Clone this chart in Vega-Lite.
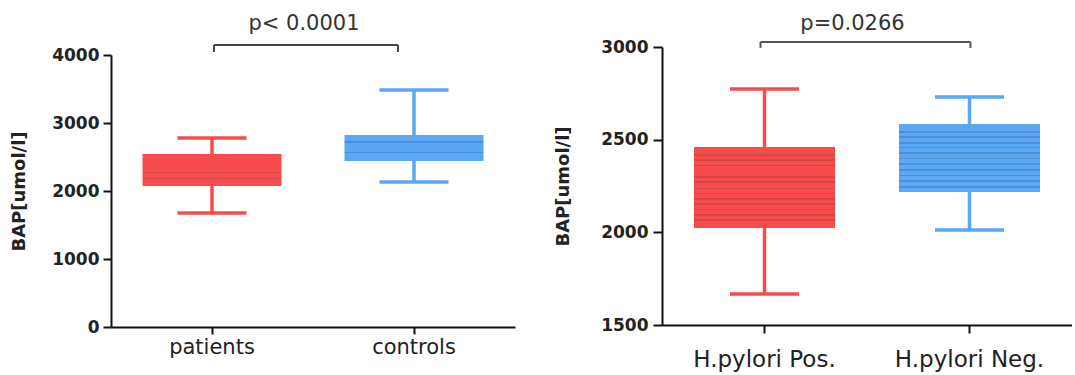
{
  "$schema": "https://vega.github.io/schema/vega-lite/v6.json",
  "padding": {"left": 10, "top": 12, "right": 0, "bottom": 2},
  "config": {
    "view": {"stroke": null},
    "font": "DejaVu Sans",
    "concat": {"spacing": 39},
    "axis": {
      "domainColor": "#111",
      "domainWidth": 2,
      "tickColor": "#111",
      "tickWidth": 2,
      "grid": false,
      "labelColor": "#222",
      "titleColor": "#222"
    }
  },
  "datasets": {
    "left": [
      {"group": "patients", "min": 1676, "q1": 2074, "q3": 2544, "max": 2779},
      {"group": "controls", "min": 2132, "q1": 2441, "q3": 2824, "max": 3485}
    ],
    "leftSig": [
      {"g1": "patients", "g2": "controls", "y": 4147, "yEnd": 4044, "yText": 4460, "label": "p< 0.0001"}
    ],
    "right": [
      {"group": "H.pylori Pos.", "min": 1667, "q1": 2023, "q3": 2460, "max": 2773},
      {"group": "H.pylori Neg.", "min": 2012, "q1": 2218, "q3": 2585, "max": 2730}
    ],
    "rightSig": [
      {"g1": "H.pylori Pos.", "g2": "H.pylori Neg.", "y": 3027, "yEnd": 2995, "yText": 3125, "label": "p=0.0266"}
    ]
  },
  "hconcat": [
    {
      "width": 404,
      "height": 280,
      "layer": [
        {
          "data": {"name": "left"},
          "mark": {"type": "rule", "strokeWidth": 3.5},
          "encoding": {
            "x": {"field": "group", "type": "nominal",
                  "scale": {"domain": ["patients", "controls"], "paddingInner": 0, "paddingOuter": 0},
                  "axis": {"title": null, "labelAngle": 0, "labelFontSize": 21, "labelPadding": 2, "tickSize": 7}},
            "y": {"field": "min", "type": "quantitative",
                  "scale": {"domain": [0, 4000], "range": [280, 8], "nice": false, "zero": false},
                  "axis": {"title": "BAP[umol/l]", "values": [0, 1000, 2000, 3000, 4000], "format": "d", "labelFontSize": 17, "labelFontWeight": "bold",
                           "titleFontSize": 18, "titleFontWeight": "bold", "titlePadding": 23, "tickSize": 8, "labelPadding": 4}},
            "y2": {"field": "max"},
            "color": {"field": "group", "type": "nominal", "scale": {"domain": ["patients", "controls"], "range": ["#f84b4b", "#5aa7f5"]}, "legend": null}
          }
        },
        {
          "data": {"name": "left"},
          "mark": {"type": "tick", "size": 69, "thickness": 3.5, "opacity": 1},
          "encoding": {
            "x": {"field": "group", "type": "nominal"},
            "y": {"field": "min", "type": "quantitative"},
            "color": {"field": "group", "type": "nominal", "legend": null}
          }
        },
        {
          "data": {"name": "left"},
          "mark": {"type": "tick", "size": 69, "thickness": 3.5, "opacity": 1},
          "encoding": {
            "x": {"field": "group", "type": "nominal"},
            "y": {"field": "max", "type": "quantitative"},
            "color": {"field": "group", "type": "nominal", "legend": null}
          }
        },
        {
          "data": {"name": "left"},
          "transform": [{"filter": {"field": "group", "equal": "patients"}}],
          "mark": {"type": "bar", "width": 139, "opacity": 1, "fill": {"gradient": "linear", "x1": 0, "y1": 0, "x2": 0, "y2": 1, "stops": [
            {"offset": 0, "color": "#f84b4b"},
            {"offset": 0.235, "color": "#f84b4b"}, {"offset": 0.235, "color": "#d44848"}, {"offset": 0.265, "color": "#d44848"}, {"offset": 0.265, "color": "#f84b4b"},
            {"offset": 0.575, "color": "#f84b4b"}, {"offset": 0.575, "color": "#d44848"}, {"offset": 0.605, "color": "#d44848"}, {"offset": 0.605, "color": "#f84b4b"},
            {"offset": 0.765, "color": "#f84b4b"}, {"offset": 0.765, "color": "#d44848"}, {"offset": 0.795, "color": "#d44848"}, {"offset": 0.795, "color": "#f84b4b"},
            {"offset": 1, "color": "#f84b4b"}]}},
          "encoding": {
            "x": {"field": "group", "type": "nominal"},
            "y": {"field": "q1", "type": "quantitative"},
            "y2": {"field": "q3"}
          }
        },
        {
          "data": {"name": "left"},
          "transform": [{"filter": {"field": "group", "equal": "controls"}}],
          "mark": {"type": "bar", "width": 139, "opacity": 1, "fill": {"gradient": "linear", "x1": 0, "y1": 0, "x2": 0, "y2": 1, "stops": [
            {"offset": 0, "color": "#5aa7f5"},
            {"offset": 0.25, "color": "#5aa7f5"}, {"offset": 0.25, "color": "#4f90d4"}, {"offset": 0.29, "color": "#4f90d4"}, {"offset": 0.29, "color": "#5aa7f5"},
            {"offset": 0.67, "color": "#5aa7f5"}, {"offset": 0.67, "color": "#4f90d4"}, {"offset": 0.71, "color": "#4f90d4"}, {"offset": 0.71, "color": "#5aa7f5"},
            {"offset": 1, "color": "#5aa7f5"}]}},
          "encoding": {
            "x": {"field": "group", "type": "nominal"},
            "y": {"field": "q1", "type": "quantitative"},
            "y2": {"field": "q3"}
          }
        },
        {
          "data": {"name": "leftSig"},
          "mark": {"type": "rule", "strokeWidth": 2, "color": "#444", "xOffset": 2, "x2Offset": -16},
          "encoding": {
            "x": {"field": "g1", "type": "nominal"},
            "x2": {"field": "g2"},
            "y": {"field": "y", "type": "quantitative"}
          }
        },
        {
          "data": {"name": "leftSig"},
          "mark": {"type": "rule", "strokeWidth": 2, "color": "#444", "xOffset": 2},
          "encoding": {
            "x": {"field": "g1", "type": "nominal"},
            "y": {"field": "y", "type": "quantitative"},
            "y2": {"field": "yEnd"}
          }
        },
        {
          "data": {"name": "leftSig"},
          "mark": {"type": "rule", "strokeWidth": 2, "color": "#444", "xOffset": -16},
          "encoding": {
            "x": {"field": "g2", "type": "nominal"},
            "y": {"field": "y", "type": "quantitative"},
            "y2": {"field": "yEnd"}
          }
        },
        {
          "data": {"name": "leftSig"},
          "mark": {"type": "text", "fontSize": 21, "color": "#333", "baseline": "middle", "align": "center", "xOffset": 92},
          "encoding": {
            "x": {"field": "g1", "type": "nominal"},
            "y": {"field": "yText", "type": "quantitative"},
            "text": {"field": "label"}
          }
        }
      ]
    },
    {
      "width": 410,
      "height": 278,
      "layer": [
        {
          "data": {"name": "right"},
          "mark": {"type": "rule", "strokeWidth": 3.5},
          "encoding": {
            "x": {"field": "group", "type": "nominal",
                  "scale": {"domain": ["H.pylori Pos.", "H.pylori Neg."], "paddingInner": 0, "paddingOuter": 0},
                  "axis": {"title": null, "labelAngle": 0, "labelFontSize": 23, "labelPadding": 15, "tickSize": 8}},
            "y": {"field": "min", "type": "quantitative",
                  "scale": {"domain": [1500, 3000], "nice": false, "zero": false},
                  "axis": {"title": "BAP[umol/l]", "values": [1500, 2000, 2500, 3000], "format": "d", "labelFontSize": 17, "labelFontWeight": "bold",
                           "titleFontSize": 18, "titleFontWeight": "bold", "titlePadding": 28, "tickSize": 9, "labelPadding": 5}},
            "y2": {"field": "max"},
            "color": {"field": "group", "type": "nominal", "scale": {"domain": ["H.pylori Pos.", "H.pylori Neg."], "range": ["#f84b4b", "#5aa7f5"]}, "legend": null}
          }
        },
        {
          "data": {"name": "right"},
          "mark": {"type": "tick", "size": 69, "thickness": 3.5, "opacity": 1},
          "encoding": {
            "x": {"field": "group", "type": "nominal"},
            "y": {"field": "min", "type": "quantitative"},
            "color": {"field": "group", "type": "nominal", "legend": null}
          }
        },
        {
          "data": {"name": "right"},
          "mark": {"type": "tick", "size": 69, "thickness": 3.5, "opacity": 1},
          "encoding": {
            "x": {"field": "group", "type": "nominal"},
            "y": {"field": "max", "type": "quantitative"},
            "color": {"field": "group", "type": "nominal", "legend": null}
          }
        },
        {
          "data": {"name": "right"},
          "transform": [{"filter": {"field": "group", "equal": "H.pylori Pos."}}],
          "mark": {"type": "bar", "width": 141, "opacity": 1, "fill": {"gradient": "linear", "x1": 0, "y1": 0, "x2": 0, "y2": 1, "stops": [
            {"offset": 0, "color": "#f84b4b"},
            {"offset": 0.091, "color": "#f84b4b"}, {"offset": 0.091, "color": "#d44848"}, {"offset": 0.109, "color": "#d44848"}, {"offset": 0.109, "color": "#f84b4b"},
            {"offset": 0.151, "color": "#f84b4b"}, {"offset": 0.151, "color": "#d44848"}, {"offset": 0.169, "color": "#d44848"}, {"offset": 0.169, "color": "#f84b4b"},
            {"offset": 0.221, "color": "#f84b4b"}, {"offset": 0.221, "color": "#d44848"}, {"offset": 0.239, "color": "#d44848"}, {"offset": 0.239, "color": "#f84b4b"},
            {"offset": 0.361, "color": "#f84b4b"}, {"offset": 0.361, "color": "#d44848"}, {"offset": 0.379, "color": "#d44848"}, {"offset": 0.379, "color": "#f84b4b"},
            {"offset": 0.421, "color": "#f84b4b"}, {"offset": 0.421, "color": "#d44848"}, {"offset": 0.439, "color": "#d44848"}, {"offset": 0.439, "color": "#f84b4b"},
            {"offset": 0.501, "color": "#f84b4b"}, {"offset": 0.501, "color": "#d44848"}, {"offset": 0.519, "color": "#d44848"}, {"offset": 0.519, "color": "#f84b4b"},
            {"offset": 0.561, "color": "#f84b4b"}, {"offset": 0.561, "color": "#d44848"}, {"offset": 0.579, "color": "#d44848"}, {"offset": 0.579, "color": "#f84b4b"},
            {"offset": 0.631, "color": "#f84b4b"}, {"offset": 0.631, "color": "#d44848"}, {"offset": 0.649, "color": "#d44848"}, {"offset": 0.649, "color": "#f84b4b"},
            {"offset": 0.691, "color": "#f84b4b"}, {"offset": 0.691, "color": "#d44848"}, {"offset": 0.709, "color": "#d44848"}, {"offset": 0.709, "color": "#f84b4b"},
            {"offset": 0.761, "color": "#f84b4b"}, {"offset": 0.761, "color": "#d44848"}, {"offset": 0.779, "color": "#d44848"}, {"offset": 0.779, "color": "#f84b4b"},
            {"offset": 0.831, "color": "#f84b4b"}, {"offset": 0.831, "color": "#d44848"}, {"offset": 0.849, "color": "#d44848"}, {"offset": 0.849, "color": "#f84b4b"},
            {"offset": 0.891, "color": "#f84b4b"}, {"offset": 0.891, "color": "#d44848"}, {"offset": 0.909, "color": "#d44848"}, {"offset": 0.909, "color": "#f84b4b"},
            {"offset": 1, "color": "#f84b4b"}]}},
          "encoding": {
            "x": {"field": "group", "type": "nominal"},
            "y": {"field": "q1", "type": "quantitative"},
            "y2": {"field": "q3"}
          }
        },
        {
          "data": {"name": "right"},
          "transform": [{"filter": {"field": "group", "equal": "H.pylori Neg."}}],
          "mark": {"type": "bar", "width": 141, "opacity": 1, "fill": {"gradient": "linear", "x1": 0, "y1": 0, "x2": 0, "y2": 1, "stops": [
            {"offset": 0, "color": "#5aa7f5"},
            {"offset": 0.109, "color": "#5aa7f5"}, {"offset": 0.109, "color": "#4f90d4"}, {"offset": 0.131, "color": "#4f90d4"}, {"offset": 0.131, "color": "#5aa7f5"},
            {"offset": 0.179, "color": "#5aa7f5"}, {"offset": 0.179, "color": "#4f90d4"}, {"offset": 0.201, "color": "#4f90d4"}, {"offset": 0.201, "color": "#5aa7f5"},
            {"offset": 0.269, "color": "#5aa7f5"}, {"offset": 0.269, "color": "#4f90d4"}, {"offset": 0.291, "color": "#4f90d4"}, {"offset": 0.291, "color": "#5aa7f5"},
            {"offset": 0.339, "color": "#5aa7f5"}, {"offset": 0.339, "color": "#4f90d4"}, {"offset": 0.361, "color": "#4f90d4"}, {"offset": 0.361, "color": "#5aa7f5"},
            {"offset": 0.419, "color": "#5aa7f5"}, {"offset": 0.419, "color": "#4f90d4"}, {"offset": 0.441, "color": "#4f90d4"}, {"offset": 0.441, "color": "#5aa7f5"},
            {"offset": 0.499, "color": "#5aa7f5"}, {"offset": 0.499, "color": "#4f90d4"}, {"offset": 0.521, "color": "#4f90d4"}, {"offset": 0.521, "color": "#5aa7f5"},
            {"offset": 0.579, "color": "#5aa7f5"}, {"offset": 0.579, "color": "#4f90d4"}, {"offset": 0.601, "color": "#4f90d4"}, {"offset": 0.601, "color": "#5aa7f5"},
            {"offset": 0.669, "color": "#5aa7f5"}, {"offset": 0.669, "color": "#4f90d4"}, {"offset": 0.691, "color": "#4f90d4"}, {"offset": 0.691, "color": "#5aa7f5"},
            {"offset": 0.749, "color": "#5aa7f5"}, {"offset": 0.749, "color": "#4f90d4"}, {"offset": 0.771, "color": "#4f90d4"}, {"offset": 0.771, "color": "#5aa7f5"},
            {"offset": 0.829, "color": "#5aa7f5"}, {"offset": 0.829, "color": "#4f90d4"}, {"offset": 0.851, "color": "#4f90d4"}, {"offset": 0.851, "color": "#5aa7f5"},
            {"offset": 0.919, "color": "#5aa7f5"}, {"offset": 0.919, "color": "#4f90d4"}, {"offset": 0.941, "color": "#4f90d4"}, {"offset": 0.941, "color": "#5aa7f5"},
            {"offset": 1, "color": "#5aa7f5"}]}},
          "encoding": {
            "x": {"field": "group", "type": "nominal"},
            "y": {"field": "q1", "type": "quantitative"},
            "y2": {"field": "q3"}
          }
        },
        {
          "data": {"name": "rightSig"},
          "mark": {"type": "rule", "strokeWidth": 2, "color": "#555", "xOffset": -4, "x2Offset": 1},
          "encoding": {
            "x": {"field": "g1", "type": "nominal"},
            "x2": {"field": "g2"},
            "y": {"field": "y", "type": "quantitative"}
          }
        },
        {
          "data": {"name": "rightSig"},
          "mark": {"type": "rule", "strokeWidth": 2, "color": "#555", "xOffset": -4},
          "encoding": {
            "x": {"field": "g1", "type": "nominal"},
            "y": {"field": "y", "type": "quantitative"},
            "y2": {"field": "yEnd"}
          }
        },
        {
          "data": {"name": "rightSig"},
          "mark": {"type": "rule", "strokeWidth": 2, "color": "#555", "xOffset": 1},
          "encoding": {
            "x": {"field": "g2", "type": "nominal"},
            "y": {"field": "y", "type": "quantitative"},
            "y2": {"field": "yEnd"}
          }
        },
        {
          "data": {"name": "rightSig"},
          "mark": {"type": "text", "fontSize": 21, "color": "#333", "baseline": "middle", "align": "center", "xOffset": 88},
          "encoding": {
            "x": {"field": "g1", "type": "nominal"},
            "y": {"field": "yText", "type": "quantitative"},
            "text": {"field": "label"}
          }
        }
      ]
    }
  ]
}
